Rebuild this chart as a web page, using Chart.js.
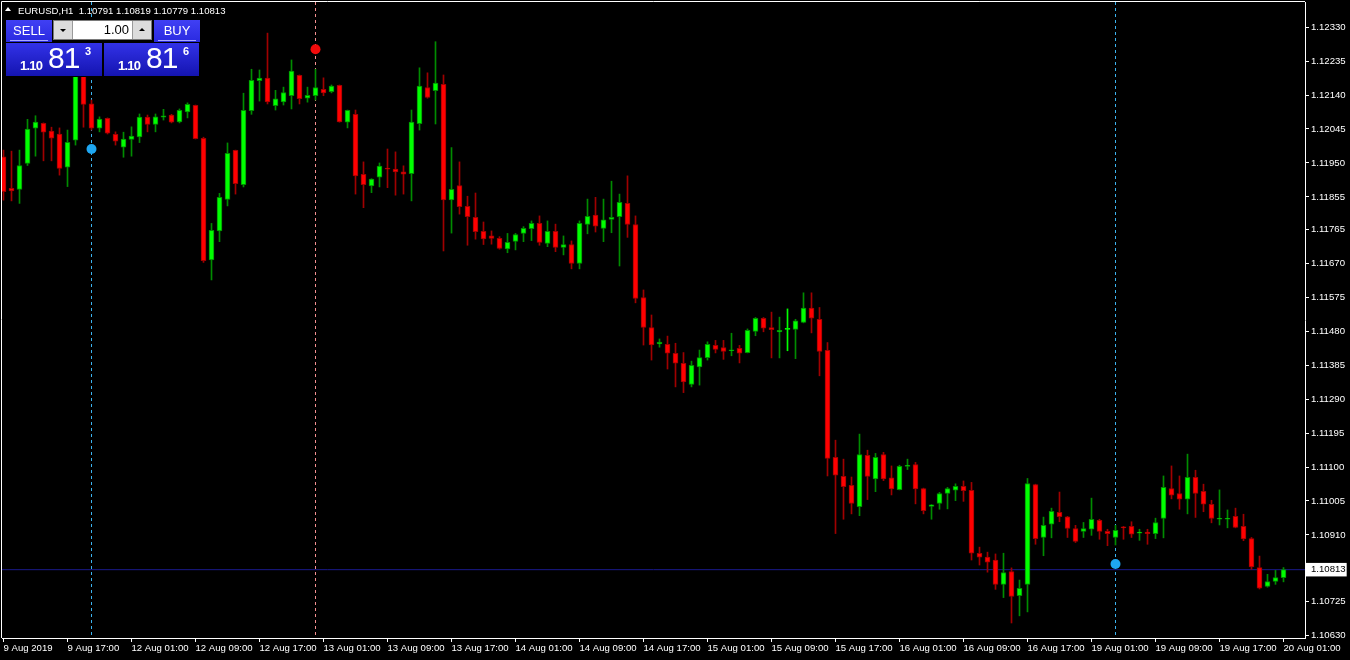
<!DOCTYPE html>
<html lang="en">
<head>
<meta charset="UTF-8" />
<title>EURUSD,H1</title>
<script src="https://cdn.jsdelivr.net/npm/chart.js"></script>
<style>
  html, body { margin: 0; padding: 0; background: #000; }
  #wrap { position: relative; width: 1350px; height: 660px; overflow: hidden; background: #000; }
  #chart { position: absolute; left: 0; top: 0; }
  #title { position: absolute; left: 18px; top: 6px; color: #fff; font: 9.6px "Liberation Sans", Arial, sans-serif; line-height: 10px; white-space: pre; }
  #tri { position: absolute; left: 5px; top: 7px; width: 0; height: 0; border-left: 3.5px solid transparent; border-right: 3.5px solid transparent; border-bottom: 4px solid #fff; }
  #trade div, #trade span { position: absolute; box-sizing: border-box; }
  #trade .bg { left: 5px; top: 19px; width: 196px; height: 58px; background: #000; }
  #trade .btn { top: 20px; width: 46px; height: 22px; background: linear-gradient(#4040f4, #2a2ae0); color: #fff; font: 13px "Liberation Sans", Arial, sans-serif; text-align: center; }
  #trade .btn span { left: 4px; right: 4px; top: 0; height: 21px; line-height: 21px; border-bottom: 1px solid #a8a8ff; }
  #trade .sell { left: 6px; }
  #trade .buy { left: 154px; }
  #trade .lot { left: 53px; top: 20px; width: 99px; height: 20px; background: #fff; border: 1px solid #7a7a7a; }
  #trade .arr { top: 0; width: 19px; height: 18px; background: #dcdcdc; }
  #trade .arr.l { left: 0; border-right: 1px solid #9a9a9a; }
  #trade .arr.r { right: 0; border-left: 1px solid #9a9a9a; }
  #trade .dn { left: 6px; top: 8px; width: 0; height: 0; border-left: 3px solid transparent; border-right: 3px solid transparent; border-top: 3px solid #000; }
  #trade .up { left: 6px; top: 7px; width: 0; height: 0; border-left: 3px solid transparent; border-right: 3px solid transparent; border-bottom: 3px solid #000; }
  #trade .lotv { right: 22px; top: 1px; font: 13px "Liberation Sans", Arial, sans-serif; line-height: 16px; color: #000; }
  #trade .quote { top: 42px; height: 34px; background: linear-gradient(#3232e8, #1414b0); color: #fff; font-family: "Liberation Sans", Arial, sans-serif; border-top: 1px solid #000; }
  #trade .q-sell { left: 6px; width: 96px; }
  #trade .q-buy { left: 104px; width: 95px; }
  #trade .fig { left: 14px; top: 16px; font-size: 13px; font-weight: bold; line-height: 13px; letter-spacing: -0.8px; }
  #trade .pips { left: 42px; top: 0px; font-size: 30px; line-height: 30px; letter-spacing: -1px; }
  #trade .pt { left: 79px; top: 3px; font-size: 11px; font-weight: bold; line-height: 11px; }
</style>
</head>
<body>
<div id="wrap">
  <canvas id="chart" width="1350" height="660"></canvas>
  <div id="tri"></div>
  <div id="title">EURUSD,H1  1.10791 1.10819 1.10779 1.10813</div>
  <div id="trade">
    <div class="bg"></div>
    <div class="btn sell"><span>SELL</span></div>
    <div class="lot">
      <div class="arr l"><div class="dn"></div></div>
      <span class="lotv">1.00</span>
      <div class="arr r"><div class="up"></div></div>
    </div>
    <div class="btn buy"><span>BUY</span></div>
    <div class="quote q-sell"><span class="fig">1.10</span><span class="pips">81</span><span class="pt">3</span></div>
    <div class="quote q-buy"><span class="fig">1.10</span><span class="pips">81</span><span class="pt">6</span></div>
  </div>
</div>
<script>
  // tick labels on the time axis, one every 8 bars
  var TIME_LABELS = ["9 Aug 2019", "9 Aug 17:00", "12 Aug 01:00", "12 Aug 09:00", "12 Aug 17:00",
    "13 Aug 01:00", "13 Aug 09:00", "13 Aug 17:00", "14 Aug 01:00", "14 Aug 09:00", "14 Aug 17:00",
    "15 Aug 01:00", "15 Aug 09:00", "15 Aug 17:00", "16 Aug 01:00", "16 Aug 09:00", "16 Aug 17:00",
    "19 Aug 01:00", "19 Aug 09:00", "19 Aug 17:00", "20 Aug 01:00"];
  var LABEL_BARS = [0, 8, 16, 24, 32, 40, 48, 56, 64, 72, 80, 88, 96, 104, 112, 120, 128, 136, 144, 152, 160];

  var PRICE_TICKS = [1.12330, 1.12235, 1.12140, 1.12045, 1.11950, 1.11855, 1.11765, 1.11670, 1.11575,
    1.11480, 1.11385, 1.11290, 1.11195, 1.11100, 1.11005, 1.10910, 1.10813, 1.10725, 1.10630];
  var LAST_PRICE = 1.10813;

  // hourly EURUSD bars, 9 Aug 09:00 .. 20 Aug 01:00
  var OPEN = [
    1.11967, 1.11879, 1.11876, 1.11949, 1.12047, 1.12061, 1.12039, 1.12031, 1.11938, 1.12014,
    1.12199, 1.12115, 1.12047, 1.12075, 1.12030, 1.11994, 1.12016, 1.12023, 1.12078, 1.12058,
    1.12078, 1.12084, 1.12065, 1.12093, 1.12111, 1.12019, 1.11679, 1.11760, 1.11848, 1.11985,
    1.11889, 1.12096, 1.12180, 1.12187, 1.12110, 1.12121, 1.12138, 1.12195, 1.12131, 1.12138,
    1.12156, 1.12149, 1.12167, 1.12064, 1.12086, 1.11918, 1.11886, 1.11910, 1.11936, 1.11933,
    1.11925, 1.11920, 1.12060, 1.12161, 1.12152, 1.12170, 1.11847, 1.11887, 1.11829, 1.11798,
    1.11759, 1.11746, 1.11739, 1.11710, 1.11731, 1.11753, 1.11766, 1.11781, 1.11725, 1.11759,
    1.11714, 1.11722, 1.11669, 1.11778, 1.11804, 1.11767, 1.11792, 1.11800, 1.11837, 1.11778,
    1.11574, 1.11490, 1.11444, 1.11443, 1.11418, 1.11390, 1.11331, 1.11380, 1.11406, 1.11440,
    1.11434, 1.11425, 1.11432, 1.11420, 1.11479, 1.11516, 1.11490, 1.11478, 1.11485, 1.11485,
    1.11504, 1.11544, 1.11513, 1.11426, 1.11127, 1.11074, 1.11049, 1.10989, 1.11133, 1.11067,
    1.11135, 1.11070, 1.11037, 1.11102, 1.11107, 1.11040, 1.10990, 1.10998, 1.11026, 1.11035,
    1.11046, 1.11035, 1.10859, 1.10848, 1.10840, 1.10772, 1.10808, 1.10740, 1.10772, 1.11051,
    1.10903, 1.10940, 1.10973, 1.10961, 1.10928, 1.10920, 1.10926, 1.10951, 1.10920, 1.10903,
    1.10933, 1.10934, 1.10915, 1.10918, 1.10914, 1.10956, 1.11040, 1.11026, 1.11010, 1.11071,
    1.11032, 1.10996, 1.10954, 1.10954, 1.10962, 1.10934, 1.10900, 1.10819, 1.10766, 1.10780,
    1.10791];
  var HIGH = [
    1.11986, 1.11983, 1.11986, 1.12072, 1.12082, 1.12062, 1.12050, 1.12048, 1.12042, 1.12215,
    1.12215, 1.12126, 1.12079, 1.12076, 1.12037, 1.12036, 1.12051, 1.12087, 1.12084, 1.12087,
    1.12100, 1.12086, 1.12101, 1.12118, 1.12112, 1.12022, 1.11781, 1.11865, 1.12006, 1.11986,
    1.12145, 1.12212, 1.12210, 1.12313, 1.12153, 1.12162, 1.12238, 1.12196, 1.12162, 1.12212,
    1.12188, 1.12168, 1.12168, 1.12098, 1.12098, 1.11953, 1.11906, 1.11950, 1.11989, 1.11981,
    1.11942, 1.12098, 1.12216, 1.12202, 1.12289, 1.12196, 1.11993, 1.11953, 1.11857, 1.11866,
    1.11785, 1.11760, 1.11744, 1.11753, 1.11753, 1.11772, 1.11788, 1.11802, 1.11788, 1.11779,
    1.11746, 1.11732, 1.11788, 1.11849, 1.11854, 1.11849, 1.11899, 1.11863, 1.11914, 1.11802,
    1.11595, 1.11525, 1.11458, 1.11466, 1.11446, 1.11420, 1.11396, 1.11427, 1.11450, 1.11454,
    1.11454, 1.11474, 1.11440, 1.11486, 1.11518, 1.11518, 1.11533, 1.11519, 1.11542, 1.11513,
    1.11587, 1.11587, 1.11546, 1.11448, 1.11175, 1.11122, 1.11072, 1.11192, 1.11147, 1.11138,
    1.11141, 1.11103, 1.11105, 1.11122, 1.11113, 1.11041, 1.10995, 1.11029, 1.11043, 1.11053,
    1.11061, 1.11057, 1.10876, 1.10862, 1.10857, 1.10859, 1.10818, 1.10784, 1.11068, 1.11052,
    1.10960, 1.10985, 1.11030, 1.10962, 1.10937, 1.10945, 1.11013, 1.10954, 1.10926, 1.10937,
    1.10934, 1.10947, 1.10926, 1.10926, 1.10957, 1.11075, 1.11103, 1.11075, 1.11136, 1.11091,
    1.11052, 1.11007, 1.11036, 1.10980, 1.10985, 1.10968, 1.10903, 1.10851, 1.10800, 1.10811,
    1.10819];
  var LOW = [
    1.11846, 1.11844, 1.11837, 1.11943, 1.11969, 1.11956, 1.11956, 1.11916, 1.11884, 1.12000,
    1.12050, 1.12042, 1.12037, 1.12031, 1.12000, 1.11966, 1.11969, 1.12007, 1.12037, 1.12037,
    1.12070, 1.12062, 1.12062, 1.12076, 1.12017, 1.11672, 1.11623, 1.11730, 1.11830, 1.11863,
    1.11883, 1.12086, 1.12123, 1.12115, 1.12098, 1.12112, 1.12101, 1.12115, 1.12120, 1.12126,
    1.12138, 1.12146, 1.12064, 1.12048, 1.11863, 1.11825, 1.11867, 1.11883, 1.11881, 1.11860,
    1.11863, 1.11844, 1.12042, 1.12131, 1.12059, 1.11704, 1.11754, 1.11807, 1.11720, 1.11737,
    1.11722, 1.11723, 1.11709, 1.11699, 1.11707, 1.11730, 1.11733, 1.11720, 1.11716, 1.11702,
    1.11693, 1.11654, 1.11654, 1.11752, 1.11757, 1.11730, 1.11755, 1.11662, 1.11742, 1.11559,
    1.11441, 1.11399, 1.11435, 1.11374, 1.11324, 1.11308, 1.11324, 1.11329, 1.11399, 1.11419,
    1.11401, 1.11411, 1.11391, 1.11419, 1.11467, 1.11478, 1.11405, 1.11405, 1.11425, 1.11403,
    1.11503, 1.11475, 1.11355, 1.11075, 1.10914, 1.10954, 1.10969, 1.10964, 1.11009, 1.11031,
    1.11062, 1.11022, 1.11036, 1.11093, 1.10997, 1.10969, 1.10954, 1.10982, 1.10983, 1.11006,
    1.11004, 1.10840, 1.10826, 1.10806, 1.10758, 1.10735, 1.10664, 1.10684, 1.10695, 1.10884,
    1.10852, 1.10902, 1.10947, 1.10903, 1.10889, 1.10903, 1.10909, 1.10898, 1.10880, 1.10882,
    1.10898, 1.10903, 1.10895, 1.10884, 1.10900, 1.10902, 1.11011, 1.10982, 1.10969, 1.10959,
    1.10975, 1.10944, 1.10938, 1.10930, 1.10930, 1.10894, 1.10814, 1.10759, 1.10764, 1.10772,
    1.10779];
  var CLOSE = [
    1.11870, 1.11872, 1.11943, 1.12045, 1.12064, 1.12036, 1.12019, 1.11935, 1.12008, 1.12199,
    1.12114, 1.12047, 1.12073, 1.12033, 1.12011, 1.12017, 1.12025, 1.12078, 1.12058, 1.12079,
    1.12082, 1.12064, 1.12097, 1.12114, 1.12018, 1.11677, 1.11762, 1.11854, 1.11977, 1.11892,
    1.12097, 1.12181, 1.12187, 1.12121, 1.12129, 1.12147, 1.12207, 1.12130, 1.12139, 1.12161,
    1.12146, 1.12165, 1.12065, 1.12097, 1.11914, 1.11889, 1.11905, 1.11941, 1.11933, 1.11925,
    1.11919, 1.12064, 1.12165, 1.12133, 1.12173, 1.11847, 1.11876, 1.11828, 1.11800, 1.11758,
    1.11738, 1.11739, 1.11711, 1.11728, 1.11750, 1.11767, 1.11781, 1.11728, 1.11759, 1.11714,
    1.11722, 1.11669, 1.11781, 1.11801, 1.11773, 1.11791, 1.11798, 1.11840, 1.11778, 1.11571,
    1.11490, 1.11441, 1.11449, 1.11418, 1.11390, 1.11338, 1.11384, 1.11406, 1.11443, 1.11429,
    1.11423, 1.11427, 1.11418, 1.11482, 1.11516, 1.11488, 1.11484, 1.11482, 1.11485, 1.11509,
    1.11544, 1.11516, 1.11423, 1.11124, 1.11077, 1.11045, 1.10998, 1.11135, 1.11074, 1.11127,
    1.11067, 1.11039, 1.11102, 1.11105, 1.11039, 1.10978, 1.10994, 1.11026, 1.11040, 1.11046,
    1.11034, 1.10859, 1.10848, 1.10834, 1.10772, 1.10805, 1.10738, 1.10761, 1.11054, 1.10900,
    1.10937, 1.10976, 1.10961, 1.10928, 1.10892, 1.10928, 1.10954, 1.10920, 1.10914, 1.10923,
    1.10930, 1.10912, 1.10918, 1.10914, 1.10945, 1.11043, 1.11021, 1.11010, 1.11071, 1.11026,
    1.10996, 1.10956, 1.10956, 1.10956, 1.10931, 1.10899, 1.10821, 1.10761, 1.10780, 1.10791,
    1.10813];

  // signal dots with their vertical dashed markers
  var SIGNAL_BARS = [11, 39, 139];
  var SIGNAL_PRICES = [1.11989, 1.12268, 1.10829];
  var SIGNAL_COLORS = ["#1ea7f2", "#f20a0a", "#1ea7f2"];
  var MARKER_COLORS = ["#3cb4f0", "#f59090", "#3cb4f0"];

  var X_MIN = -0.1875, X_MAX = 162.6875;
  var Y_MIN = 1.10622, Y_MAX = 1.12400;

  var UP_FILL = "#00ff00", UP_EDGE = "#008c00";
  var DN_FILL = "#ff0000", DN_EDGE = "#a00000";

  function dir(i) {
    if (CLOSE[i] > OPEN[i]) return 1;
    if (CLOSE[i] < OPEN[i]) return -1;
    return 0;
  }

  var bars = OPEN.map(function (o, i) { return i; });
  var font = { family: "'Liberation Sans', Arial, sans-serif", size: 9.6 };

  var datasets = [];

  SIGNAL_BARS.forEach(function (b, k) {
    datasets.push({
      type: "line",
      data: [{ x: b, y: SIGNAL_PRICES[k] }],
      showLine: false,
      pointRadius: 5,
      pointBackgroundColor: SIGNAL_COLORS[k],
      pointBorderWidth: 0,
      order: 0,
    });
  });

  datasets.push({
    type: "bar",
    data: bars.map(function (i) { return { x: i, y: [OPEN[i], CLOSE[i]] }; }),
    backgroundColor: function (c) { var d = dir(c.dataIndex); return d > 0 ? UP_FILL : d < 0 ? DN_FILL : UP_FILL; },
    borderColor: function (c) { var d = dir(c.dataIndex); return d > 0 ? UP_EDGE : d < 0 ? DN_EDGE : UP_FILL; },
    borderWidth: 1,
    borderSkipped: false,
    barThickness: 5,
    minBarLength: 1,
    grouped: false,
    order: 1,
  });

  datasets.push({
    type: "bar",
    data: bars.map(function (i) { return { x: i, y: [LOW[i], HIGH[i]] }; }),
    backgroundColor: function (c) { var d = dir(c.dataIndex); return d > 0 ? UP_EDGE : d < 0 ? DN_EDGE : UP_FILL; },
    borderWidth: 0,
    barThickness: 1,
    grouped: false,
    order: 2,
  });

  SIGNAL_BARS.forEach(function (b, k) {
    datasets.push({
      type: "line",
      data: [{ x: b, y: Y_MAX }, { x: b, y: Y_MIN }],
      borderColor: MARKER_COLORS[k],
      borderWidth: 1,
      borderDash: [3, 3],
      pointRadius: 0,
      order: 3,
    });
  });

  // current price line
  datasets.push({
    type: "line",
    data: [{ x: X_MIN, y: LAST_PRICE }, { x: X_MAX, y: LAST_PRICE }],
    borderColor: "#1a1a8a",
    borderWidth: 1,
    pointRadius: 0,
    order: 4,
  });

  var framePlugin = {
    id: "frame",
    beforeDatasetsDraw: function (chart) {
      var a = chart.chartArea, ctx = chart.ctx;
      ctx.save();
      ctx.strokeStyle = "#ffffff";
      ctx.lineWidth = 1;
      ctx.beginPath();
      ctx.moveTo(a.left - 0.5, a.bottom);
      ctx.lineTo(a.left - 0.5, a.top - 0.5);
      ctx.lineTo(a.right, a.top - 0.5);
      ctx.stroke();
      ctx.restore();
    },
  };

  new Chart(document.getElementById("chart").getContext("2d"), {
    type: "bar",
    data: { datasets: datasets },
    plugins: [framePlugin],
    options: {
      responsive: false,
      animation: false,
      devicePixelRatio: 1,
      layout: { autoPadding: false, padding: { left: 2, top: 2, right: 0, bottom: 0 } },
      plugins: { legend: { display: false }, tooltip: { enabled: false } },
      scales: {
        x: {
          type: "linear",
          min: X_MIN,
          max: X_MAX,
          offset: false,
          afterBuildTicks: function (s) { s.ticks = LABEL_BARS.map(function (v) { return { value: v }; }); },
          afterFit: function (s) { s.height = 22; s.paddingLeft = 0; s.paddingRight = 0; },
          ticks: {
            autoSkip: false,
            maxRotation: 0,
            align: "start",
            padding: 1,
            color: "#ffffff",
            font: font,
            callback: function (v, i) { return TIME_LABELS[i]; },
          },
          grid: { drawOnChartArea: false, drawTicks: true, tickLength: 4, color: "#ffffff", offset: false },
          border: { color: "#ffffff", width: 1 },
        },
        y: {
          type: "linear",
          position: "right",
          min: Y_MIN,
          max: Y_MAX,
          afterBuildTicks: function (s) { s.ticks = PRICE_TICKS.map(function (v) { return { value: v }; }); },
          afterFit: function (s) { s.width = 45; s.paddingTop = 0; s.paddingBottom = 0; },
          ticks: {
            autoSkip: false,
            padding: 2,
            font: font,
            color: function (c) { return c.tick && c.tick.value === LAST_PRICE ? "#000000" : "#ffffff"; },
            showLabelBackdrop: function (c) { return !!(c.tick && c.tick.value === LAST_PRICE); },
            backdropColor: "#ffffff",
            backdropPadding: { top: 1, bottom: 1, left: 5, right: 1 },
            callback: function (v) { return v.toFixed(5); },
          },
          grid: { drawOnChartArea: false, drawTicks: true, tickLength: 4, color: "#ffffff" },
          border: { color: "#ffffff", width: 1 },
        },
      },
    },
  });
</script>
</body>
</html>
